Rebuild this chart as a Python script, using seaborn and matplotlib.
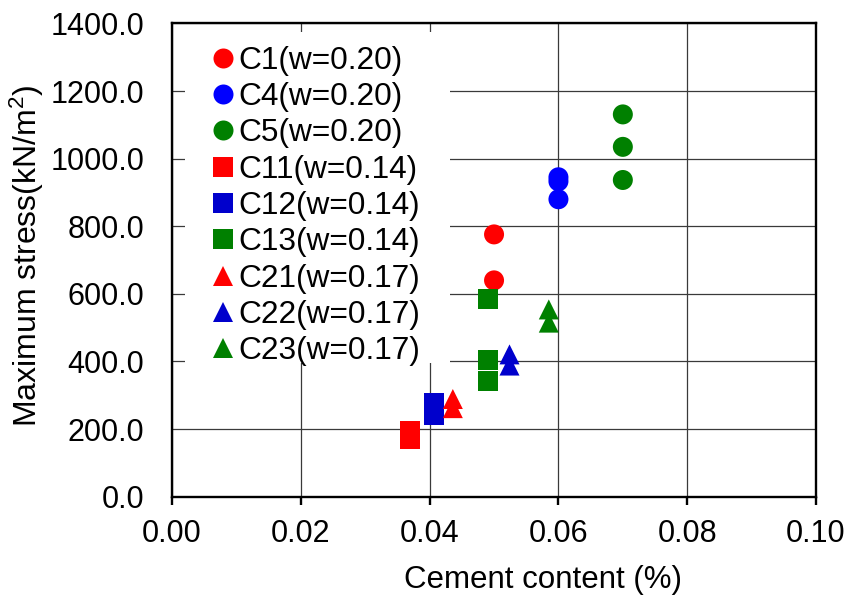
import matplotlib
matplotlib.use("Agg")
import matplotlib.pyplot as plt
from matplotlib.patches import Rectangle
import numpy as np
import pandas as pd
import seaborn as sns

# Specimen series: cement content (%) and measured maximum stress (kN/m2)
series_names = ["C1(w=0.20)", "C4(w=0.20)", "C5(w=0.20)",
                "C11(w=0.14)", "C12(w=0.14)", "C13(w=0.14)",
                "C21(w=0.17)", "C22(w=0.17)", "C23(w=0.17)"]
cement_content = [0.050, 0.060, 0.070,
                  0.0369, 0.0406, 0.0490,
                  0.0436, 0.0524, 0.0585]
stress_c1 = [776, 640]
stress_c4 = [945, 933, 880]
stress_c5 = [1131, 1035, 937]
stress_c11 = [194, 170]
stress_c12 = [277, 241]
stress_c13 = [584, 403, 341]
stress_c21 = [289, 262]
stress_c22 = [421, 388]
stress_c23 = [554, 515]
stress_sets = [stress_c1, stress_c4, stress_c5,
               stress_c11, stress_c12, stress_c13,
               stress_c21, stress_c22, stress_c23]

series_colors = ["#FF0000", "#0000FF", "#008000",
                 "#FF0000", "#0000CC", "#008000",
                 "#FF0000", "#0000CC", "#008000"]
series_markers = ["o", "o", "o", "s", "s", "s", "^", "^", "^"]

x_ticks = [0.00, 0.02, 0.04, 0.06, 0.08, 0.10]
y_ticks = [0, 200, 400, 600, 800, 1000, 1200, 1400]

rows = []
for name, xc, ys in zip(series_names, cement_content, stress_sets):
    for yv in ys:
        rows.append({"series": name, "cement": xc, "stress": yv})
df = pd.DataFrame(rows)

sns.set_style("white")
plt.rcParams["font.family"] = ["Liberation Sans", "DejaVu Sans"]
plt.rcParams["font.size"] = 22
plt.rcParams["mathtext.fontset"] = "custom"
plt.rcParams["mathtext.rm"] = "Liberation Sans"
plt.rcParams["mathtext.it"] = "Liberation Sans"
plt.rcParams["mathtext.default"] = "regular"
for key in ("text.color", "axes.labelcolor", "xtick.color", "ytick.color"):
    plt.rcParams[key] = "black"

fig = plt.figure(figsize=(8.51, 5.96), dpi=100)
ax = fig.add_axes([0.2022, 0.1666, 0.7567, 0.7940])

ms = 14.4
sns.scatterplot(data=df, x="cement", y="stress", hue="series", style="series",
                hue_order=series_names, style_order=series_names,
                palette=dict(zip(series_names, series_colors)),
                markers=dict(zip(series_names, series_markers)),
                s=ms ** 2, linewidth=0, alpha=1, ax=ax, legend=False, zorder=3)

ax.set_xlim(0, 0.10)
ax.set_ylim(0, 1400)
ax.set_xticks(x_ticks)
ax.set_xticklabels([f"{v:.2f}" for v in x_ticks])
ax.set_yticks(y_ticks)
ax.set_yticklabels([f"{v:.1f}" for v in y_ticks])

ax.set_axisbelow(True)
ax.grid(True, color="#3a3a3a", linewidth=0.9)
for sp in ax.spines.values():
    sp.set_visible(True)
    sp.set_color("black")
    sp.set_linewidth(1.7)

ax.tick_params(axis="x", direction="out", length=6, width=1.7, pad=10,
               labelsize=22, bottom=True, color="black", labelcolor="black")
ax.tick_params(axis="y", length=0, pad=20, labelsize=22, labelcolor="black")

ax.set_xlabel("Cement content (%)", fontsize=22.5, color="black")
ax.set_ylabel("Maximum stress(kN/m$^2$)", fontsize=23, color="black")
ax.xaxis.set_label_coords(0.576, -0.145)
ax.yaxis.set_label_coords(-0.196, 0.51)

# white panel behind the legend, hiding the grid there
ax.add_patch(Rectangle((0.0197, 0.2825), 0.4117, 0.70, transform=ax.transAxes,
                       facecolor="white", edgecolor="none", zorder=0.8))

handles = [plt.Line2D([], [], linestyle="none", marker=m, color=c,
                      markersize=ms, markeredgewidth=0)
           for m, c in zip(series_markers, series_colors)]
leg = ax.legend(handles, series_names, loc="upper left",
                bbox_to_anchor=(0.0617, 0.953), frameon=False, borderpad=0,
                borderaxespad=0, handlelength=0.7, handletextpad=0.15,
                labelspacing=0.2, fontsize=22.8)
for t in leg.get_texts():
    t.set_color("black")

fig.savefig("out.png", dpi=100)
